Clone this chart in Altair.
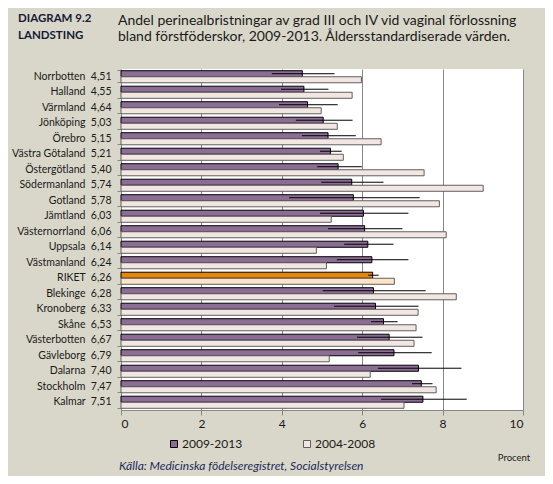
import altair as alt
import pandas as pd

regions = ["Norrbotten", "Halland", "Värmland", "Jönköping", "Örebro", "Västra Götaland",
           "Östergötland", "Södermanland", "Gotland", "Jämtland", "Västernorrland", "Uppsala",
           "Västmanland", "RIKET", "Blekinge", "Kronoberg", "Skåne", "Västerbotten",
           "Gävleborg", "Dalarna", "Stockholm", "Kalmar"]
v2009 = [4.51, 4.55, 4.64, 5.03, 5.15, 5.21, 5.40, 5.74, 5.78, 6.03, 6.06, 6.14,
         6.24, 6.26, 6.28, 6.33, 6.53, 6.67, 6.79, 7.40, 7.47, 7.51]
v2004 = [5.98, 5.75, 4.98, 5.38, 6.47, 5.53, 7.54, 9.01, 7.92, 5.23, 8.09, 4.86,
         5.11, 6.80, 8.34, 7.39, 7.34, 7.29, 5.18, 6.20, 7.84, 7.04]
ci_lo = [3.75, 3.98, 3.93, 4.35, 4.50, 4.95, 4.88, 4.98, 4.18, 4.95, 5.15, 5.55,
         5.37, 6.15, 5.02, 5.30, 6.22, 5.87, 5.90, 6.39, 7.24, 6.47]
ci_hi = [5.31, 5.16, 5.39, 5.76, 5.84, 5.49, 5.99, 6.53, 7.43, 7.15, 7.00, 6.78,
         7.15, 6.41, 7.58, 7.40, 6.88, 7.50, 7.73, 8.47, 7.75, 8.60]
series = ["2009-2013", "2004-2008"]

labels = [f"{r}\u00a0\u00a0{v:.2f}".replace(".", ",") for r, v in zip(regions, v2009)]

rows = []
for r, lab, a, b, lo, hi in zip(regions, labels, v2009, v2004, ci_lo, ci_hi):
    pre = "RIKET " if r == "RIKET" else ""
    rows.append({"label": lab, "series": series[0], "value": a, "key": pre + series[0], "lo": lo, "hi": hi})
    rows.append({"label": lab, "series": series[1], "value": b, "key": pre + series[1], "lo": None, "hi": None})
df = pd.DataFrame(rows)

keys = ["2009-2013", "2004-2008", "RIKET 2009-2013", "RIKET 2004-2008"]
fills = ["#8c6d96", "#f2e6e2", "#e8830c", "#fde4c8"]
strokes = ["#000000", "#5f5f5f", "#000000", "#5f5f5f"]

FONT = "Lato"
grid_col = "#878787"

y_enc = alt.Y("label:N", sort=labels,
              scale=alt.Scale(paddingInner=0.22, paddingOuter=0.11),
              axis=alt.Axis(title=None, labelFont=FONT, labelFontSize=10.5, labelColor="#1a1a1a",
                            domainColor=grid_col, tickColor=grid_col, tickSize=4,
                            bandPosition=1, tickExtra=True, labelPadding=6))
yoff = alt.YOffset("series:N", sort=series, scale=alt.Scale(paddingInner=0, paddingOuter=0))
x_enc = alt.X("value:Q", scale=alt.Scale(domain=[0, 10], nice=False),
              axis=alt.Axis(title=None, values=[0, 2, 4, 6, 8, 10], grid=True, gridColor=grid_col,
                            domainColor=grid_col, tickColor=grid_col, tickSize=5,
                            labelFont=FONT, labelFontSize=12, labelColor="#1a1a1a", labelPadding=3))

base = alt.Chart(df)
bars = base.mark_bar(strokeWidth=1).encode(
    x=x_enc, y=y_enc, yOffset=yoff,
    color=alt.Color("key:N", scale=alt.Scale(domain=keys, range=fills),
                    legend=alt.Legend(values=series, title=None, orient="none",
                                      legendX=47, legendY=369, direction="horizontal",
                                      symbolType="square", symbolSize=49,
                                      symbolStrokeColor="#000000", symbolStrokeWidth=1,
                                      labelFont=FONT, labelFontSize=12, labelColor="#1a1a1a",
                                      labelOffset=2, columnPadding=58, padding=0)),
    stroke=alt.Stroke("key:N", scale=alt.Scale(domain=keys, range=strokes), legend=None),
)
errs = base.transform_filter(alt.datum.series == series[0]).mark_rule(color="black", strokeWidth=1).encode(
    x="lo:Q", x2="hi:Q", y=alt.Y("label:N", sort=labels), yOffset=yoff,
)

def txt(t, x, y, align="left", **kw):
    return alt.Chart(pd.DataFrame({"t": [t]})).mark_text(align=align, baseline="alphabetic", font=FONT, **kw).encode(
        x=alt.value(x), y=alt.value(y), text="t:N")

diag = txt("DIAGRAM  9.2\nLANDSTING", -103, -47, fontSize=11.5, fontWeight="bold", color="#161a36",
           lineBreak="\n", lineHeight=16.5)
title = txt("Andel perinealbristningar av grad III och IV vid vaginal förlossning\nbland förstföderskor, 2009-2013.  Åldersstandardiserade värden.",
            -3, -44.5, fontSize=14, color="#1a1a1a", lineBreak="\n", lineHeight=16.5)
procent = txt("Procent", 393, 392, align="center", fontSize=9.5, color="#1a1a1a")
kalla = txt("Källa: Medicinska födelseregistret, Socialstyrelsen", -2, 401, fontSize=12, fontStyle="italic",
            color="#1b2a5a")

chart = alt.layer(bars, errs, diag, title, procent, kalla).properties(
    width=402, height=341,
    padding={"left": 113, "top": 61, "right": 22, "bottom": 66},
    autosize=alt.AutoSizeParams(type="none"),
    background="#d9d7c9",
).configure_view(fill="white", stroke=None)

chart.save("out.html", embed_options={"renderer": "svg", "actions": False})
